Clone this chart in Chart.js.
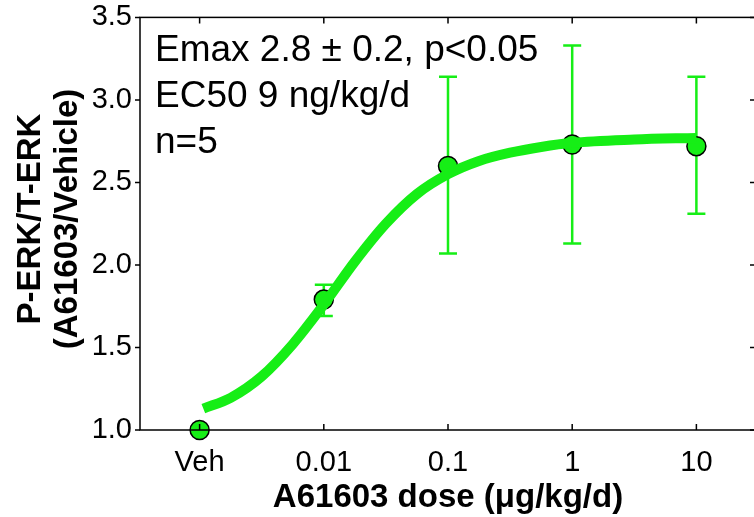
<!DOCTYPE html>
<html>
<head>
<meta charset="utf-8">
<script src="https://cdn.jsdelivr.net/npm/chart.js@4"></script>
<style>
  html, body { margin: 0; padding: 0; background: #fff; overflow: hidden; }
  #wrap { width: 754px; height: 517px; overflow: hidden; }
</style>
</head>
<body>
<div id="wrap"><canvas id="chart" width="767" height="517"></canvas></div>
<script>
// dose groups on the x axis (category positions 0..4)
const doseLabels = ['Veh', '0.01', '0.1', '1', '10'];
const meanValues = [1.0, 1.79, 2.60, 2.73, 2.72];
const errLow = [null, 1.69, 2.07, 2.13, 2.31];
const errHigh = [null, 1.88, 3.14, 3.33, 3.14];

// fitted curve (x in category units)
const fitX = [0.03, 0.25, 0.5, 0.75, 1.0, 1.25, 1.5, 1.75, 2.0, 2.25, 2.5, 2.75, 3.0, 3.5, 4.0];
const fitY = [1.13, 1.195, 1.325, 1.52, 1.76, 2.02, 2.25, 2.43, 2.55, 2.63, 2.68, 2.715, 2.74, 2.76, 2.77];

const yTicks = [1.0, 1.5, 2.0, 2.5, 3.0, 3.5];
const notes = ['Emax 2.8 \u00b1 0.2, p<0.05', 'EC50 9 ng/kg/d', 'n=5'];

const FONT = "'Liberation Sans', Arial, Helvetica, sans-serif";
const GREEN = 'rgb(22,238,22)';

const framePlugin = {
  id: 'frame',
  beforeDatasetsDraw(chart) {
    const { ctx, scales: { x, y } } = chart;
    ctx.save();
    ctx.strokeStyle = GREEN;
    ctx.lineWidth = 2.5;
    errLow.forEach((lo, i) => {
      if (lo == null) return;
      const px = x.getPixelForValue(i);
      const y1 = y.getPixelForValue(lo);
      const y2 = y.getPixelForValue(errHigh[i]);
      ctx.beginPath();
      ctx.moveTo(px, y1); ctx.lineTo(px, y2);
      ctx.moveTo(px - 9, y1); ctx.lineTo(px + 9, y1);
      ctx.moveTo(px - 9, y2); ctx.lineTo(px + 9, y2);
      ctx.stroke();
    });
    ctx.restore();
  },
  afterDraw(chart) {
    const { ctx, chartArea: a, scales: { x, y } } = chart;
    ctx.save();
    ctx.strokeStyle = '#000';
    ctx.lineWidth = 1.5;
    ctx.strokeRect(a.left, a.top, a.right - a.left, a.bottom - a.top);
    ctx.beginPath();
    doseLabels.forEach((_, i) => {
      const px = x.getPixelForValue(i);
      ctx.moveTo(px, a.bottom); ctx.lineTo(px, a.bottom - 6);
      ctx.moveTo(px, a.top); ctx.lineTo(px, a.top + 6);
    });
    yTicks.forEach(v => {
      const py = y.getPixelForValue(v);
      ctx.moveTo(a.left - 5, py); ctx.lineTo(a.left, py);
      ctx.moveTo(a.right, py); ctx.lineTo(a.right - 6, py);
    });
    ctx.stroke();

    ctx.fillStyle = '#000';
    // annotation
    ctx.font = '37px ' + FONT;
    ctx.textAlign = 'left';
    ctx.textBaseline = 'alphabetic';
    notes.forEach((t, i) => ctx.fillText(t, 155, 61 + i * 46));

    // x title
    ctx.font = 'bold 33px ' + FONT;
    ctx.textAlign = 'center';
    ctx.fillText('A61603 dose (\u03bcg/kg/d)', 448, 507);

    // y title, two lines
    ctx.translate(0, 219);
    ctx.rotate(-Math.PI / 2);
    ctx.font = 'bold 33px ' + FONT;
    ctx.fillText('P-ERK/T-ERK', 0, 40);
    ctx.fillText('(A61603/Vehicle)', 0, 77);
    ctx.restore();
  }
};

new Chart(document.getElementById('chart'), {
  type: 'scatter',
  data: {
    datasets: [
      {
        data: fitX.map((v, i) => ({ x: v, y: fitY[i] })),
        showLine: true,
        borderColor: GREEN,
        borderWidth: 10,
        borderCapStyle: 'butt',
        cubicInterpolationMode: 'monotone',
        pointRadius: 0,
        order: 0
      },
      {
        data: meanValues.map((v, i) => ({ x: i, y: v })),
        pointRadius: 9.5,
        pointBackgroundColor: GREEN,
        pointBorderColor: '#000',
        pointBorderWidth: 1.5,
        clip: false,
        order: 1
      }
    ]
  },
  options: {
    responsive: false,
    devicePixelRatio: 1,
    animation: false,
    layout: { padding: { top: 17, right: 4, left: 0, bottom: 0 } },
    plugins: { legend: { display: false }, tooltip: { enabled: false } },
    scales: {
      x: {
        type: 'linear',
        min: -0.48,
        max: 4.48,
        afterBuildTicks: s => { s.ticks = doseLabels.map((_, i) => ({ value: i })); },
        afterFit: s => { s.height = 87; },
        grid: { display: false },
        border: { display: false },
        ticks: {
          padding: 8,
          color: '#000',
          font: { family: FONT, size: 29 },
          callback: v => doseLabels[v]
        }
      },
      y: {
        min: 1.0,
        max: 3.5,
        afterBuildTicks: s => { s.ticks = yTicks.map(v => ({ value: v })); },
        afterFit: s => { s.width = 140; },
        grid: { display: false },
        border: { display: false },
        ticks: {
          padding: 0,
          color: '#000',
          font: { family: FONT, size: 29 },
          callback: v => v.toFixed(1)
        }
      }
    }
  },
  plugins: [framePlugin]
});
</script>
</body>
</html>
